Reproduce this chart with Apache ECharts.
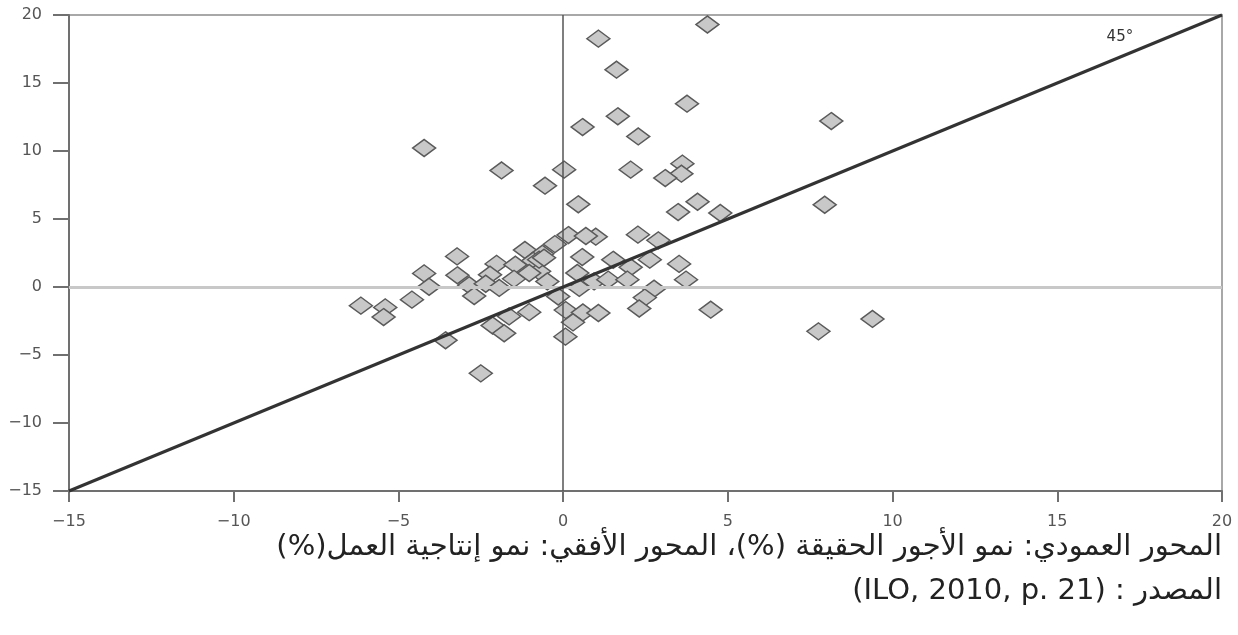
<!DOCTYPE html>
<html>
<head>
<meta charset="utf-8">
<script src="https://cdn.jsdelivr.net/npm/echarts@6/dist/echarts.min.js"></script>
<style>
    html, body { margin: 0; padding: 0; background: #fff; }
    #chart { width: 1238px; height: 635px; }
</style>
</head>
<body>
<div id="chart"></div>
<script>
// 刻度 (两轴相同, %)
const axisTicks = [-15, -10, -5, 0, 5, 10, 15, 20];

// 各国: [劳动生产率增长 %, 实际工资增长 %]
const countryPoints = [
    [4.38, 19.3], [1.07, 18.26], [1.62, 15.98], [3.76, 13.48], [1.66, 12.55],
    [0.59, 11.76], [2.28, 11.07], [-4.22, 10.22], [-1.87, 8.57], [0.03, 8.63],
    [2.05, 8.63], [-0.55, 7.45], [3.62, 9.07], [3.59, 8.33], [3.10, 8.01],
    [0.46, 6.08], [4.08, 6.27], [3.49, 5.51], [4.77, 5.44], [8.14, 12.2],
    [7.94, 6.05], [0.16, 3.82], [0.99, 3.70], [0.69, 3.75], [2.27, 3.85],
    [2.89, 3.43], [-0.25, 3.15], [-1.16, 2.72], [-0.63, 2.45], [0.58, 2.2],
    [1.52, 2.0], [2.63, 2.01], [2.05, 1.45], [3.52, 1.70], [3.73, 0.54],
    [-3.22, 2.25], [-2.02, 1.70], [-1.45, 1.64], [-0.91, 1.93], [-4.22, 1.0],
    [-3.21, 0.86], [-2.22, 0.90], [-1.49, 0.60], [-0.73, 1.15], [-1.03, 1.03],
    [-0.48, 0.41], [-4.07, 0.02], [-2.85, 0.13], [-2.35, 0.24], [-1.94, -0.07],
    [-2.70, -0.66], [-4.59, -0.93], [-6.14, -1.37], [-5.40, -1.50], [-5.45, -2.21],
    [-0.15, -0.7], [-1.03, -1.85], [0.08, -1.70], [0.60, -1.87], [1.07, -1.91],
    [0.30, -2.60], [-2.14, -2.83], [-1.79, -3.40], [0.07, -3.65], [-3.57, -3.92],
    [-2.50, -6.35], [-1.64, -2.16], [0.43, 1.03], [0.94, 0.41], [1.37, 0.54],
    [1.95, 0.54], [0.49, -0.07], [2.76, -0.13], [2.48, -0.78], [2.31, -1.58],
    [4.48, -1.67], [7.75, -3.26], [9.39, -2.35], [-0.73, 2.01], [-0.58, 2.15]
];

// 45° 标注位置
const angleLabel = '45°';
const angleLabelAt = [16.9, 18.4];

// 图下说明文字
const captionLines = [
    'المحور العمودي: نمو الأجور الحقيقة (%)، المحور الأفقي: نمو إنتاجية العمل(%)',
    'المصدر : (ILO, 2010, p. 21)'
];

const axisMin = axisTicks[0];
const axisMax = axisTicks[axisTicks.length - 1];
const axisStep = axisTicks[1] - axisTicks[0];

function minusSign(v) {
    return String(v).replace('-', '\u2212');
}

function initScatterChart() {
    const chart = echarts.init(document.getElementById('chart'));
    const labelFont = {
        color: '#555',
        fontSize: 16,
        fontFamily: "'DejaVu Sans', sans-serif",
        formatter: minusSign
    };
    const option = {
        animation: false,
        backgroundColor: '#fff',
        grid: {
            left: 69,
            right: 16,
            top: 15,
            bottom: 144,
            show: true,
            borderColor: '#a8a8a8',
            borderWidth: 2
        },
        xAxis: {
            type: 'value',
            min: axisMin,
            max: axisMax,
            interval: axisStep,
            axisLine: { onZero: false, lineStyle: { color: '#707070', width: 2 } },
            axisTick: { length: 11, lineStyle: { color: '#707070', width: 2 } },
            axisLabel: Object.assign({ margin: 23 }, labelFont),
            splitLine: { show: false }
        },
        yAxis: {
            type: 'value',
            min: axisMin,
            max: axisMax,
            interval: axisStep,
            axisLine: { onZero: false, lineStyle: { color: '#707070', width: 2 } },
            axisTick: { length: 16, lineStyle: { color: '#707070', width: 2 } },
            axisLabel: Object.assign({ margin: 27 }, labelFont),
            splitLine: { show: false }
        },
        series: [{
            // y = 0 横线
            type: 'line',
            data: [],
            z: 1,
            markLine: {
                silent: true,
                symbol: 'none',
                label: { show: false },
                lineStyle: { color: '#c8c8c8', width: 3, type: 'solid' },
                data: [{ yAxis: 0 }]
            }
        }, {
            name: '国家',
            type: 'scatter',
            z: 2,
            symbol: 'diamond',
            symbolSize: [23, 17],
            itemStyle: {
                color: '#c8c8c8',
                borderColor: '#5a5a5a',
                borderWidth: 1.5,
                opacity: 1
            },
            data: countryPoints
        }, {
            // x = 0 竖线
            type: 'line',
            data: [],
            z: 3,
            markLine: {
                silent: true,
                symbol: 'none',
                label: { show: false },
                lineStyle: { color: '#555', width: 1.5, type: 'solid' },
                data: [{ xAxis: 0 }]
            }
        }, {
            // 45° 线
            type: 'line',
            data: [],
            z: 4,
            markLine: {
                silent: true,
                symbol: 'none',
                label: { show: false },
                lineStyle: { color: '#333', width: 3, type: 'solid' },
                data: [[{ coord: [axisMin, axisMin] }, { coord: [axisMax, axisMax] }]]
            },
            markPoint: {
                silent: true,
                symbol: 'circle',
                symbolSize: 0,
                label: {
                    show: true,
                    formatter: angleLabel,
                    color: '#333',
                    fontSize: 15,
                    fontFamily: "'DejaVu Sans', sans-serif"
                },
                data: [{ coord: angleLabelAt }]
            }
        }],
        graphic: captionLines.map(function (line, i) {
            return {
                type: 'text',
                right: 16,
                top: 533 + i * 44,
                style: {
                    text: '\u202B' + line + '\u202C',
                    fill: '#222',
                    fontSize: 29,
                    fontFamily: "'DejaVu Sans', sans-serif"
                }
            };
        })
    };
    chart.setOption(option);
}

document.addEventListener('DOMContentLoaded', function () {
    initScatterChart();
});
</script>
</body>
</html>
